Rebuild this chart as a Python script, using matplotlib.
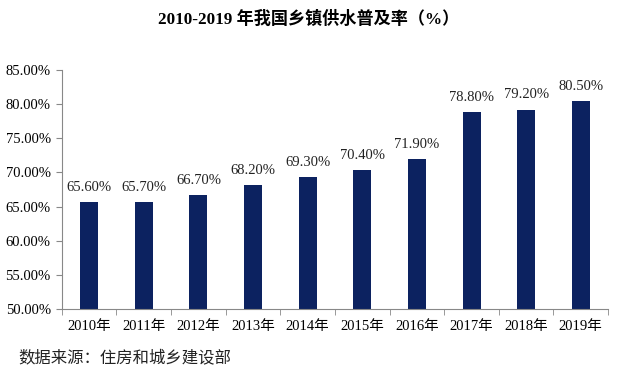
import matplotlib
matplotlib.use("Agg")
import matplotlib.pyplot as plt
from matplotlib.ticker import MultipleLocator, FuncFormatter

plt.rcParams['font.family'] = ['Liberation Serif', 'Noto Sans CJK SC']

years = ["2010年", "2011年", "2012年", "2013年", "2014年", "2015年", "2016年", "2017年", "2018年", "2019年"]
rates = [65.6, 65.7, 66.7, 68.2, 69.3, 70.4, 71.9, 78.8, 79.2, 80.5]

fig = plt.figure(figsize=(6.18, 3.79), dpi=100)
ax = fig.add_axes([0.100, 0.185, 0.884, 0.630])

x = list(range(len(years)))
ax.bar(x, rates, width=0.33, color="#0c2260", zorder=2)
for xi, v in zip(x, rates):
    ax.text(xi, v + 1.2, f"{v:.2f}%", ha="center", va="bottom", fontsize=10.5, color="#222222")

ax.set_ylim(50, 85)
ax.set_xlim(-0.5, len(years) - 0.5)
ax.yaxis.set_major_locator(MultipleLocator(5))
ax.yaxis.set_major_formatter(FuncFormatter(lambda v, p: f"{v:.2f}%"))
ax.set_xticks(x)
ax.set_xticklabels(years)
ax.set_xticks([i + 0.5 for i in range(-1, len(years))], minor=True)
ax.tick_params(axis="x", which="major", length=0, pad=8, labelsize=10.5)
ax.tick_params(axis="x", which="minor", length=4, direction="out", color="#888888")
ax.tick_params(axis="y", length=4, direction="out", color="#888888", labelsize=10.5, pad=4)
for s in ["top", "right"]:
    ax.spines[s].set_visible(False)
for s in ["left", "bottom"]:
    ax.spines[s].set_color("#888888")
    ax.spines[s].set_linewidth(0.8)

fig.text(0.5, 0.950, "2010-2019 年我国乡镇供水普及率（%）", ha="center", va="center",
         fontsize=12.3, fontweight="bold")
fig.text(0.030, 0.055, "数据来源：住房和城乡建设部", ha="left", va="center", fontsize=11.8,
         family=['Noto Sans CJK SC'], color="#222222")

fig.savefig("out.png", dpi=100)
